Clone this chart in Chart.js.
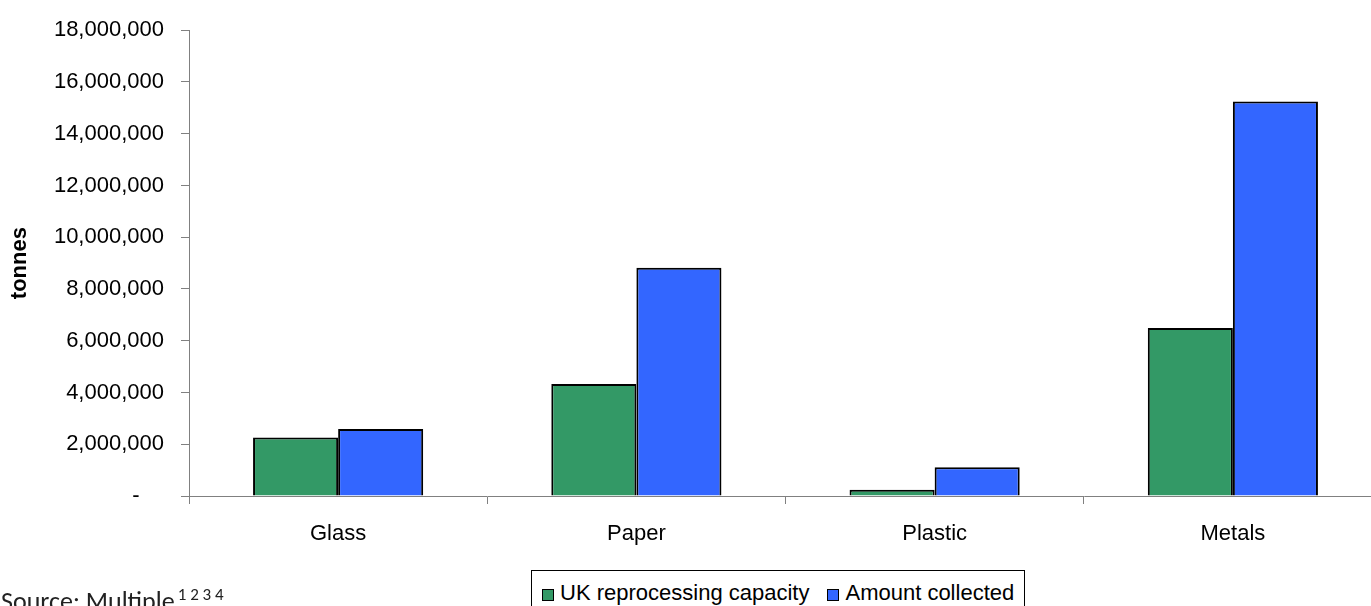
<!DOCTYPE html>
<html>
<head>
<meta charset="utf-8">
<script src="https://cdn.jsdelivr.net/npm/chart.js@4.4.1/dist/chart.umd.min.js"></script>
<style>
html,body{margin:0;padding:0;background:#fff;overflow:hidden;}
#wrap{position:relative;width:1371px;height:606px;overflow:hidden;background:#fff;}
#c{position:absolute;left:0;top:0;}
#legend{position:absolute;left:531px;top:570px;border:1px solid #000;padding:9px 10px 10px 10px;
  font-family:'Liberation Sans',Arial,sans-serif;font-size:22px;line-height:26px;white-space:nowrap;background:#fff;color:#000;}
.sw{display:inline-block;width:10px;height:10px;border:1px solid #000;margin:0 6px -1px 0;}
.item{display:inline-block;}
.item + .item{margin-left:18px;}
#source{position:absolute;left:1px;top:586px;font-family:Carlito,Calibri,Lato,sans-serif;font-size:26px;line-height:30px;color:#222;white-space:nowrap;}
#source sup{font-size:17px;line-height:0;vertical-align:baseline;position:relative;top:-10px;margin-left:3px;}
</style>
</head>
<body>
<div id="wrap">
<canvas id="c" width="1382" height="606"></canvas>
<div id="legend"></div>
<div id="source">Source: Multiple<sup>1 2 3 4</sup></div>
</div>
<script>
const categories = ['Glass', 'Paper', 'Plastic', 'Metals'];
const seriesNames = ['UK reprocessing capacity', 'Amount collected'];
const capacity = [2260000, 4330000, 240000, 6490000];
const collected = [2590000, 8820000, 1110000, 15240000];
const yTickValues = [0, 2000000, 4000000, 6000000, 8000000, 10000000, 12000000, 14000000, 16000000, 18000000];
const yTickLabels = ['-', '2,000,000', '4,000,000', '6,000,000', '8,000,000', '10,000,000', '12,000,000', '14,000,000', '16,000,000', '18,000,000'];
const yTitle = 'tonnes';
const colors = ['#339966', '#3366FF'];

const FONT = "'Liberation Sans', Arial, sans-serif";

const chart = new Chart(document.getElementById('c'), {
  type: 'bar',
  data: {
    labels: categories,
    datasets: [
      { label: seriesNames[0], data: capacity, backgroundColor: colors[0], borderColor: '#000', borderWidth: 2,
        categoryPercentage: 0.5705, barPercentage: 1.0 },
      { label: seriesNames[1], data: collected, backgroundColor: colors[1], borderColor: '#000', borderWidth: 2,
        categoryPercentage: 0.5705, barPercentage: 1.0 }
    ]
  },
  options: {
    responsive: false,
    devicePixelRatio: 1,
    animation: false,
    layout: { padding: { top: 26, left: 0, right: 0, bottom: 0 } },
    plugins: { legend: { display: false }, tooltip: { enabled: false }, title: { display: false } },
    scales: {
      x: {
        grid: { drawOnChartArea: false, drawTicks: true, tickLength: 8, color: '#808080', offset: true },
        border: { display: true, color: '#808080', width: 1 },
        ticks: { color: '#000', font: { family: FONT, size: 22 }, padding: 17, maxRotation: 0 },
        afterFit: s => { s.height = 110; }
      },
      y: {
        min: 0, max: 18000000,
        afterBuildTicks: s => { s.ticks = yTickValues.map(v => ({ value: v })); },
        grid: { drawOnChartArea: false, drawTicks: true, tickLength: 8, color: '#808080' },
        border: { display: true, color: '#808080', width: 1 },
        ticks: {
          color: '#000', font: { family: FONT, size: 22 }, padding: 17,
          callback: (v, i) => { const l = yTickLabels[i]; return l === '-' ? '-    ' : l; }
        },
        title: { display: true, text: yTitle, color: '#000', font: { family: FONT, size: 22, weight: 'bold' }, padding: { top: 7, bottom: 0 } },
        afterFit: s => { s.width = 189; }
      }
    }
  }
});

const leg = document.getElementById('legend');
chart.data.datasets.forEach((ds, i) => {
  const it = document.createElement('span');
  it.className = 'item';
  const sw = document.createElement('span');
  sw.className = 'sw';
  sw.style.background = ds.backgroundColor;
  it.appendChild(sw);
  it.appendChild(document.createTextNode(ds.label));
  leg.appendChild(it);
});
</script>
</body>
</html>
